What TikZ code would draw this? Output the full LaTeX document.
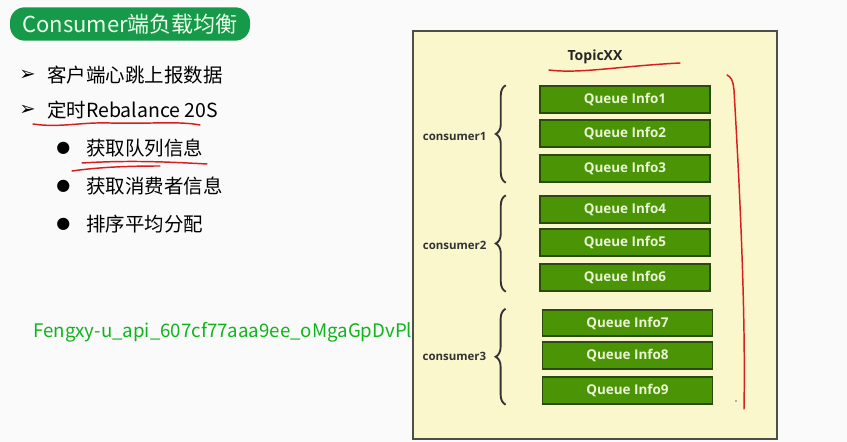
\documentclass[tikz,border=0pt]{standalone}
\usepackage{fontspec}
\setmainfont{Noto Sans CJK SC}
\newfontfamily\symfont{DejaVu Sans}
\newfontfamily\latinfont{Open Sans}
\usetikzlibrary{decorations.pathreplacing}
\definecolor{titlegreen}{HTML}{17994A}
\definecolor{panelfill}{HTML}{FAF7CD}
\definecolor{panelline}{HTML}{4F4F4A}
\definecolor{queuefill}{HTML}{4A9405}
\definecolor{queueline}{HTML}{2A4A12}
\definecolor{queuetext}{HTML}{EAF5D6}
\definecolor{penred}{HTML}{D81E1E}
\definecolor{markgreen}{HTML}{10B41C}
\tikzset{queue/.style={draw=queueline, line width=1.3pt, fill=queuefill,
  minimum width=127.5pt, minimum height=20pt, inner sep=0pt,
  text=queuetext, font=\latinfont\bfseries\fontsize{10.1}{12}\selectfont},
  consumer/.style={font=\latinfont\bfseries\fontsize{8.6}{10}\selectfont, text=black!80, anchor=east},
  groupbrace/.style={decorate, decoration={brace, amplitude=7.5pt}, line width=1.4pt, black!80},
  pen/.style={penred, line width=1.1pt, line cap=round, line join=round},
  item/.style={anchor=west, inner sep=0pt, font=\fontsize{14.6}{16}\selectfont}}

\begin{document}
\begin{tikzpicture}[x=0.75pt, y=-0.75pt]
  \useasboundingbox (0,0) rectangle (847,442);
  \fill[white!98!black] (0,0) rectangle (847,442);
  % title and list on the left
  \node[fill=titlegreen, rounded corners=11pt, minimum width=180pt, minimum height=25pt,
    text=green!8, font=\fontsize{16.5}{18}\selectfont] (title) at (130,24) {Consumer端负载均衡};
  \node[item] (arrow1) at (19,75) {\symfont\bfseries ➢};
  \node[item] (item1) at (47,75) {客户端心跳上报数据};
  \node[item] (arrow2) at (19,110) {\symfont\bfseries ➢};
  \node[item] (item2) at (47,110) {定时Rebalance 20S};
  \node[item] (dot1) at (56,148) {\symfont\fontsize{12}{14}\selectfont ●};
  \node[item] (sub1) at (86,148) {获取队列信息};
  \node[item] (dot2) at (56,186) {\symfont\fontsize{12}{14}\selectfont ●};
  \node[item] (sub2) at (86,186) {获取消费者信息};
  \node[item] (dot3) at (56,224) {\symfont\fontsize{12}{14}\selectfont ●};
  \node[item] (sub3) at (86,224) {排序平均分配};

  % topic panel
  \draw[panelline, fill=panelfill, line width=1.5pt] (413,31) rectangle (777,439);
  \node[font=\latinfont\bfseries\fontsize{10.5}{12}\selectfont, text=black!85] (topic) at (595,57) {TopicXX};
  \node[queue] (q1) at (625,99.5) {Queue Info1};
  \node[queue] (q2) at (625,133.5) {Queue Info2};
  \node[queue] (q3) at (625,168.5) {Queue Info3};
  \node[queue] (q4) at (625,209.5) {Queue Info4};
  \node[queue] (q5) at (625,242.5) {Queue Info5};
  \node[queue] (q6) at (625,277.5) {Queue Info6};
  \node[queue] (q7) at (627.5,323) {Queue Info7};
  \node[queue] (q8) at (627.5,355.5) {Queue Info8};
  \node[queue] (q9) at (627.5,390.5) {Queue Info9};
  % braces for the consumers
  \draw[groupbrace] ([xshift=-25pt]q3.south west) -- ([xshift=-25pt]q1.north west)
    coordinate[midway, xshift=-11pt, yshift=-1.5pt] (b1);
  \draw[groupbrace] ([xshift=-25pt]q6.south west) -- ([xshift=-25pt]q4.north west)
    coordinate[midway, xshift=-11pt, yshift=-1.5pt] (b2);
  \draw[groupbrace] ([xshift=-27pt]q9.south west) -- ([xshift=-27pt]q7.north west)
    coordinate[midway, xshift=-11pt] (b3);
  \node[consumer] (c1) at (b1) {consumer1};
  \node[consumer] (c2) at (b2) {consumer2};
  \node[consumer] (c3) at (b3) {consumer3};

  % watermark, over the panel
  \node[anchor=west, inner sep=0pt, text=markgreen, font=\fontsize{14}{16}\selectfont]
    (mark) at (33,332) {Fengxy-u\_api\_607cf77aaa9ee\_oMgaGpDvPl};

  % red pen marks
  \draw[pen] (33,124) .. controls (60,128) and (80,122) .. (110,123)
    .. controls (150,124) and (180,121) .. (200,125);
  \draw[pen] (82,163) .. controls (130,160) and (170,162) .. (207,164);
  \draw[pen] (72,171) .. controls (100,167) and (130,166) .. (160,166);
  \draw[pen] (549,70) .. controls (580,74) and (620,66) .. (680,63);
  \draw[pen] (727,75) .. controls (731,77) and (733,80) .. (734,90)
    .. controls (738,160) and (746,300) .. (744,409);
  \fill[black!60] (736,401) circle (0.9);
\end{tikzpicture}
\end{document}
